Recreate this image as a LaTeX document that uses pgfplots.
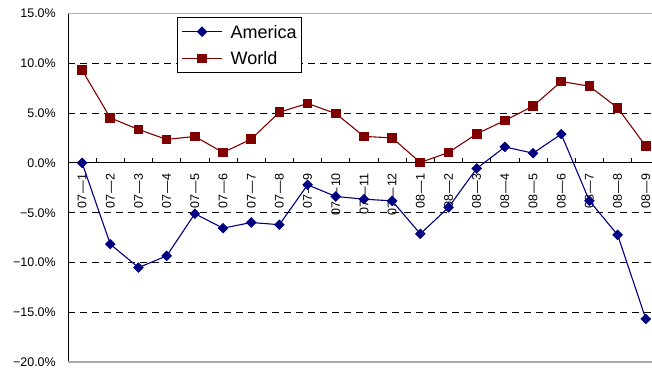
\documentclass[border=0pt]{standalone}
\usepackage{fontspec}
\setmainfont{Liberation Sans}
\usepackage{pgfplots}
\pgfplotsset{compat=1.18}
\definecolor{usblue}{RGB}{0,0,128}
\definecolor{wred}{RGB}{128,0,0}
% month label: year, a long dash, month
\newcommand{\ym}[2]{#1\hspace{0.08em}—\hspace{0.08em}#2}

\begin{document}
\begin{tikzpicture}
\begin{axis}[
  scale only axis, width=584bp, height=349bp,
  xmin=-0.5, xmax=20.22, ymin=-20, ymax=15,
  axis x line=middle, axis y line=left,
  axis line style={-, black, line width=0.8bp},
  clip=false,
  xtick={0,...,20},
  xticklabels={\ym{07}{1},\ym{07}{2},\ym{07}{3},\ym{07}{4},\ym{07}{5},\ym{07}{6},
    \ym{07}{7},\ym{07}{8},\ym{07}{9},\ym{07}{10},\ym{07}{11},\ym{07}{12},
    \ym{08}{1},\ym{08}{2},\ym{08}{3},\ym{08}{4},\ym{08}{5},\ym{08}{6},
    \ym{08}{7},\ym{08}{8},\ym{08}{9}},
  major x tick style={draw=none},
  minor xtick={0.5,1.5,...,19.5},
  minor x tick style={black, line width=0.8bp},
  minor tick length=5bp,
  tick align=inside,
  xticklabel style={rotate=90, anchor=east, inner sep=0pt},
  xticklabel shift=10bp,
  ytick={-20,-15,...,15},
  yticklabels={−20.0\%,−15.0\%,−10.0\%,−5.0\%,0.0\%,5.0\%,10.0\%,15.0\%},
  ytick style={draw=none},
  yticklabel style={anchor=east, inner sep=0pt, xshift=-12bp},
  tick label style={font=\fontsize{12.5bp}{14bp}\selectfont},
  extra y ticks={-15,-10,-5,5,10},
  extra y tick labels={},
  extra y tick style={grid=major, major tick length=0pt,
    major grid style={black, dash pattern=on 7bp off 5bp, line width=0.8bp}},
  legend style={at={(0.186,0.9885)}, anchor=north west, draw=black,
    line width=0.8bp, fill=white,
    font=\fontsize{18bp}{20bp}\selectfont,
    inner xsep=4.5bp, inner ysep=7.5bp, row sep=13.7bp, column sep=8bp,
    nodes={inner sep=0pt, text height=13bp, text depth=0pt},
    cells={anchor=west}},
  legend image code/.code={%
    \draw[mark repeat=2, mark phase=2, #1]
      plot coordinates {(0bp,0bp) (20bp,0bp) (40bp,0bp)};},
]
\coordinate (sw) at (rel axis cs:0,0);
\coordinate (ne) at (rel axis cs:1,1);
\draw[gray!65, line width=1bp] (rel axis cs:0,1) -- (rel axis cs:1,1);
\draw[gray!65, line width=1.6bp] (rel axis cs:0,0) -- (rel axis cs:1,0);

\addplot[usblue, line width=1.1bp, mark=square*, mark size=3.2bp,
  mark options={rotate=45, solid}] coordinates {
  (0,0) (1,-8.15) (2,-10.5) (3,-9.33) (4,-5.1) (5,-6.55) (6,-5.98)
  (7,-6.2) (8,-2.2) (9,-3.37) (10,-3.64) (11,-3.81) (12,-7.12)
  (13,-4.47) (14,-0.56) (15,1.6) (16,0.97) (17,2.88) (18,-3.81)
  (19,-7.22) (20,-15.65)};
\addplot[wred, line width=1.1bp, mark=square*, mark size=4.3bp,
  mark options={solid}] coordinates {
  (0,9.3) (1,4.51) (2,3.35) (3,2.35) (4,2.65) (5,1.04) (6,2.38)
  (7,5.08) (8,5.96) (9,4.95) (10,2.65) (11,2.51) (12,0.04)
  (13,1.04) (14,2.91) (15,4.25) (16,5.69) (17,8.16) (18,7.69)
  (19,5.52) (20,1.67)};
\legend{America, World}
\end{axis}
\pgfresetboundingbox
\path ([shift={(-68bp,-8.3bp)}]sw) rectangle ([shift={(0bp,13.3bp)}]ne);
\end{tikzpicture}
\end{document}
